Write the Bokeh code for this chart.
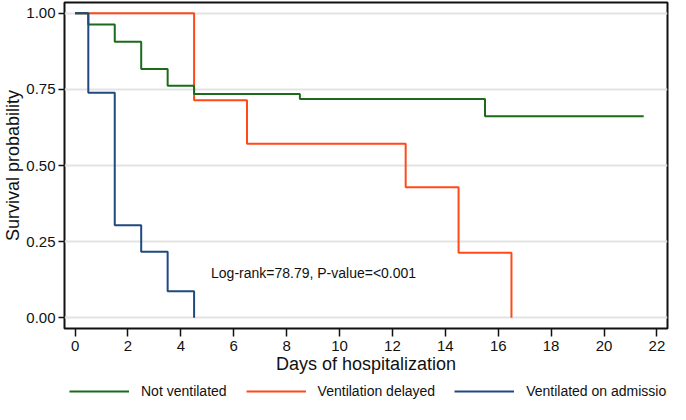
from bokeh.plotting import figure
from bokeh.models import Legend, LegendItem, Label, FixedTicker, Range1d
from bokeh.layouts import column
from bokeh.embed import file_html
from bokeh.resources import INLINE

# Kaplan-Meier curves (time in days, survival probability)
not_vent_t = [0, 0.5, 1.5, 2.5, 3.5, 4.5, 8.5, 15.5, 21.5]
not_vent_s = [1.0, 0.963, 0.906, 0.817, 0.762, 0.735, 0.718, 0.662, 0.662]

delayed_t = [0, 4.5, 6.5, 12.5, 14.5, 16.5]
delayed_s = [1.0, 0.714, 0.571, 0.429, 0.214, 0.0]

admission_t = [0, 0.5, 1.5, 2.5, 3.5, 4.5]
admission_s = [1.0, 0.739, 0.304, 0.217, 0.087, 0.0]

x_ticks = [0, 2, 4, 6, 8, 10, 12, 14, 16, 18, 20, 22]
y_ticks = [0.0, 0.25, 0.5, 0.75, 1.0]
y_tick_labels = {0.0: "0.00", 0.25: "0.25", 0.5: "0.50", 0.75: "0.75", 1.0: "1.00"}

series_names = ["Not ventilated", "Ventilation delayed", "Ventilated on admission"]
colors = ["#1b6b1b", "#ff4a17", "#1f4a80"]
series_t = [not_vent_t, delayed_t, admission_t]
series_s = [not_vent_s, delayed_s, admission_s]

FONT = "Liberation Sans"

p = figure(width=670, height=376, output_backend="svg", toolbar_location=None,
           x_range=Range1d(-0.4, 22.4), y_range=Range1d(-0.035, 1.035))
p.min_border_top = 2
p.min_border_right = 3
p.min_border_left = 0
p.min_border_bottom = 0
p.outline_line_color = "#111111"
p.outline_line_width = 2
p.background_fill_color = "white"
p.border_fill_color = "white"

p.xgrid.grid_line_color = None
p.ygrid.grid_line_color = "#e3e3e3"
p.ygrid.grid_line_width = 2
p.ygrid.ticker = FixedTicker(ticks=y_ticks)

p.xaxis.ticker = FixedTicker(ticks=x_ticks)
p.yaxis.ticker = FixedTicker(ticks=y_ticks)
p.yaxis.major_label_overrides = y_tick_labels
for ax in (p.xaxis[0], p.yaxis[0]):
    ax.axis_line_color = None
    ax.major_tick_in = 0
    ax.major_tick_line_color = "#111111"
    ax.major_tick_line_width = 1.5
    ax.minor_tick_line_color = None
    ax.major_label_text_font = FONT
    ax.major_label_text_font_size = "15px"
    ax.major_label_text_color = "#111111"
    ax.axis_label_text_font = FONT
    ax.axis_label_text_font_size = "18px"
    ax.axis_label_text_font_style = "normal"
    ax.axis_label_text_color = "#111111"
p.xaxis.major_tick_out = 8
p.yaxis.major_tick_out = 6
p.xaxis.major_label_standoff = 4
p.yaxis.major_label_standoff = 3
p.xaxis.axis_label = "Days of hospitalization"
p.yaxis.axis_label = "Survival probability"
p.xaxis.axis_label_standoff = 0
p.yaxis.axis_label_standoff = 0

for i in (1, 0, 2):
    p.step(series_t[i], series_s[i], mode="after", line_color=colors[i], line_width=2)

p.add_layout(Label(x=5.14, y=0.147, text="Log-rank=78.79, P-value=<0.001",
                   text_font=FONT, text_font_size="14px", text_baseline="middle",
                   text_color="#111111"))

# Legend strip below the plot (its view range is away from the data so only the legend shows)
lg = figure(width=670, height=28, output_backend="svg", toolbar_location=None,
            x_axis_type=None, y_axis_type=None,
            x_range=Range1d(100, 101), y_range=Range1d(100, 101))
lg.min_border = 0
lg.grid.grid_line_color = None
lg.outline_line_color = None
lg.background_fill_color = "white"
lg.border_fill_color = "white"
legend_renderers = [lg.step(t, s, mode="after", line_color=c, line_width=2)
                    for t, s, c in zip(series_t, series_s, colors)]

legend = Legend(items=[LegendItem(label=name, renderers=[r])
                       for name, r in zip(series_names, legend_renderers)],
                orientation="horizontal", location=(5, 5),
                border_line_color=None, background_fill_alpha=0,
                glyph_width=60, glyph_height=14, label_standoff=12, spacing=19,
                padding=0, margin=0, label_text_font=FONT, label_text_font_size="14px",
                label_text_color="#111111")
lg.add_layout(legend)

layout = column(p, lg, spacing=0)
open("out.html", "w").write(file_html(layout, INLINE))
